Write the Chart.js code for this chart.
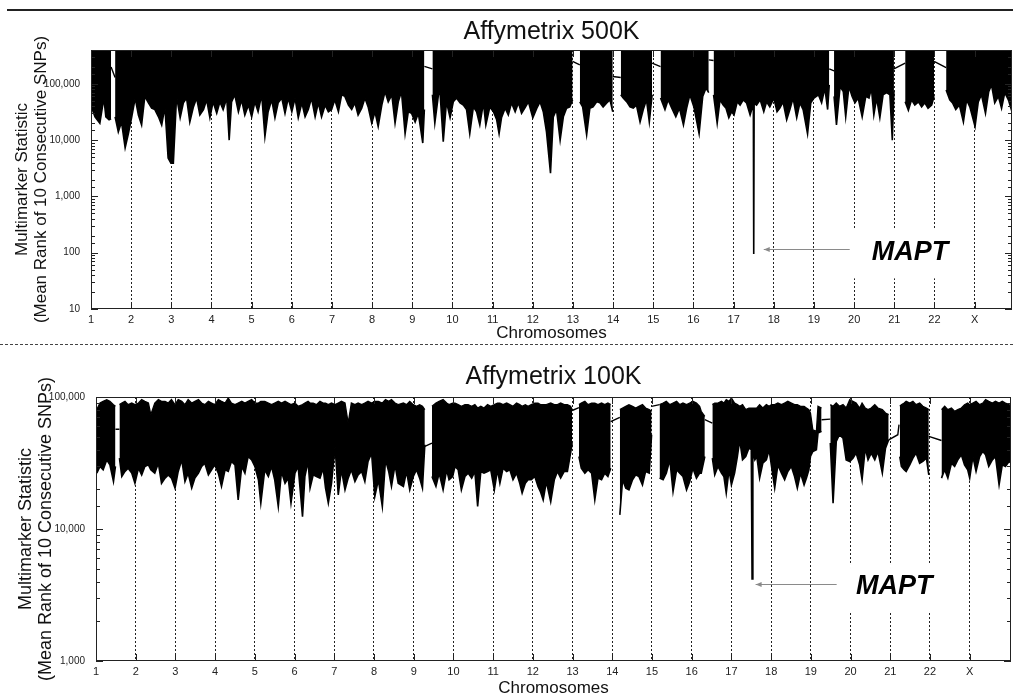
<!DOCTYPE html>
<html>
<head>
<meta charset="utf-8">
<script src="https://cdn.jsdelivr.net/npm/chart.js@4.4.1/dist/chart.umd.min.js"></script>
<style>
  html, body { margin: 0; padding: 0; background: #fff; }
  #page { position: relative; width: 1013px; height: 696px; overflow: hidden; }
  canvas { position: absolute; left: 0; }
  #chart500 { top: 0; }
  #chart100 { top: 345px; }
  #ruleTop { position: absolute; top: 9px; left: 7px; width: 1006px; border-top: 2px solid #222; }
  #ruleMid { position: absolute; top: 344px; left: 0; width: 1013px; border-top: 1px dashed #444; }
</style>
</head>
<body>
<div id="page">
  <div id="ruleTop"></div>
  <canvas id="chart500" width="1013" height="340"></canvas>
  <div id="ruleMid"></div>
  <canvas id="chart100" width="1013" height="351"></canvas>
</div>
<script>
const FONT = '"Liberation Sans", Arial, sans-serif';

const chromosomeLabels = ['1', '2', '3', '4', '5', '6', '7', '8', '9', '10', '11', '12',
  '13', '14', '15', '16', '17', '18', '19', '20', '21', '22', 'X'];

// Affymetrix 500K: lower edge of the statistic band (band reaches the top of the axis)
// null = gap in coverage (centromere / acrocentric arm)
const snp500Pos = [
  1.02, 1.10, 1.22, 1.32, 1.37, 1.45, 1.50, 1.55,
  1.60, 1.68, 1.76, 1.85, 1.93, 2.01, 2.10, 2.18, 2.26, 2.34, 2.43, 2.51, 2.59, 2.68, 2.76, 2.84,
  2.92, 2.99, 3.05, 3.13, 3.22, 3.30, 3.38, 3.46, 3.55, 3.63, 3.71, 3.80, 3.88, 3.96, 4.04, 4.13,
  4.21, 4.29, 4.38, 4.44, 4.50, 4.58, 4.67, 4.75, 4.83, 4.92, 5.00, 5.08, 5.16, 5.25, 5.33, 5.41,
  5.50, 5.58, 5.66, 5.75, 5.83, 5.91, 6.00, 6.08, 6.16, 6.25, 6.33, 6.41, 6.49, 6.58, 6.66, 6.74,
  6.83, 6.91, 6.99, 7.07, 7.16, 7.24, 7.32, 7.41, 7.49, 7.57, 7.65, 7.74, 7.82, 7.90, 7.99, 8.07,
  8.15, 8.24, 8.32, 8.40, 8.49, 8.57, 8.65, 8.73, 8.82, 8.90, 8.98, 9.07, 9.15, 9.26, 9.30, 9.40,
  9.50, 9.56, 9.65, 9.69, 9.77, 9.85, 9.94, 10.02, 10.10, 10.19, 10.27, 10.35, 10.43, 10.52, 10.60,
  10.68, 10.77, 10.83, 10.93, 11.02, 11.10, 11.16, 11.22, 11.31, 11.39, 11.47, 11.56, 11.64, 11.72,
  11.80, 11.89, 12.00, 12.10, 12.18, 12.26, 12.34, 12.44, 12.51, 12.59, 12.68, 12.76, 12.84, 12.92,
  12.99, 13.08,
  13.17, 13.24, 13.34, 13.42, 13.50, 13.59, 13.67, 13.75, 13.84, 13.92, 13.99, 14.08,
  14.19, 14.25, 14.34, 14.42, 14.50, 14.58, 14.67, 14.75, 14.83, 14.90, 14.97, 15.08,
  15.18, 15.29, 15.37, 15.46, 15.56, 15.65, 15.75, 15.83, 15.91, 16.01, 16.14, 16.23, 16.31, 16.38, 16.44,
  16.50, 16.59, 16.66, 16.74, 16.81, 16.88, 16.95, 17.01, 17.09, 17.16, 17.24, 17.32, 17.41, 17.47,
  17.49, 17.50, 17.51, 17.57, 17.66, 17.75, 17.82, 17.90, 18.00, 18.08, 18.15, 18.23, 18.32, 18.40,
  18.48, 18.57, 18.65, 18.73, 18.84, 18.92, 19.00, 19.11, 19.19, 19.27, 19.34, 19.38, 19.44,
  19.50, 19.56, 19.65, 19.73, 19.79, 19.87, 19.95, 20.02, 20.10, 20.20, 20.29, 20.37, 20.43, 20.49,
  20.56, 20.64, 20.72, 20.81, 20.89, 20.95, 20.99, 21.13,
  21.27, 21.35, 21.43, 21.51, 21.60, 21.68, 21.76, 21.84, 21.93, 21.99, 22.13,
  22.29, 22.38, 22.45, 22.53, 22.62, 22.72, 22.80, 22.88, 23.01, 23.09, 23.17, 23.27, 23.35, 23.42,
  23.50, 23.59, 23.67, 23.75, 23.84, 23.93,
];
const snp500Low = [
  37000, 26000, 20000, 56000, 26000, 23000, 24000, null,
  26000, 14000, 21000, 7300, 13000, 25000, 56000, 28000, 18600, 60000, 46000, 37000, 35000, 26000, 18600, 39000,
  4800, 3900, 3900, 60000, 25000, 46000, 56000, 21000, 39000, 56000, 28000, 35000, 52000, 25000, 48000, 30000,
  48000, 35000, 56000, 10000, 48000, 64000, 32000, 52000, 28000, 42000, 26000, 48000, 32000, 64000, 11500, 32000,
  52000, 25000, 46000, 56000, 30000, 56000, 32000, 56000, 25000, 46000, 26000, 35000, 56000, 26000, 46000, 26000,
  42000, 32000, 35000, 52000, 32000, 64000, 60000, 42000, 35000, 46000, 28000, 37000, 56000, 39000, 20000, 32000,
  17400, 42000, 73000, 48000, 64000, 20000, 48000, 73000, 13000, 32000, 30000, 21000, 30000, 8900, 35000, null,
  64000, 20000, 64000, 70000, 9400, 48000, 25000, 48000, 56000, 46000, 42000, 35000, 13000, 39000, 32000,
  18600, 46000, 18600, 39000, 32000, 23000, 13000, 25000, 37000, 28000, 46000, 32000, 46000, 30000,
  37000, 48000, 25000, 37000, 48000, 32000, 14000, 2600, 26000, 35000, 10000, 26000, 37000, 39000,
  52000, null,
  48000, 39000, 12400, 37000, 39000, 48000, 46000, 39000, 46000, 52000, 32000, null,
  64000, 56000, 48000, 39000, 37000, 42000, 21000, 35000, 52000, 21000, 64000, null,
  56000, 35000, 52000, 37000, 26000, 37000, 18600, 37000, 64000, 39000, 13000, 60000, 84000, 70000, null,
  64000, 20000, 52000, 42000, 37000, 25000, 32000, 28000, 48000, 42000, 52000, 46000, 28000, 39000,
  45000, 95, 45000, 42000, 52000, 32000, 48000, 39000, 56000, 32000, 37000, 48000, 23000, 35000,
  56000, 25000, 46000, 35000, 13000, 46000, 56000, 64000, 46000, 84000, 35000, 96000, null,
  60000, 18600, 90000, 73000, 26000, 90000, 60000, 46000, 56000, 26000, 60000, 56000, 84000, 28000,
  56000, 25000, 64000, 70000, 64000, 10000, 73000, null,
  48000, 34000, 52000, 42000, 48000, 39000, 46000, 37000, 42000, 60000, null,
  78000, 52000, 46000, 35000, 42000, 21000, 52000, 39000, 17400, 48000, 64000, 30000, 73000, 96000,
  46000, 60000, 37000, 70000, 52000, 32000,
];
// thin trace joining the blocks across the gaps
const snp500LinkPos = [1.50, 1.60, 1.55, 9.30, 9.50, 9.40, 12.99, 13.17, 13.08, 13.99, 14.19, 14.08,
  14.97, 15.18, 15.08, 16.38, 16.50, 16.44, 19.38, 19.50, 19.44, 20.99, 21.27, 21.13, 21.99, 22.29];
const snp500LinkVal = [200000, 130000, null, 205000, 185000, null, 250000, 218000, null, 135000, 130000, null,
  233000, 203000, null, 267000, 260000, null, 185000, 170000, null, 185000, 233000, null, 250000, 195000];

// Affymetrix 100K: upper and lower edge of the statistic band
const snp100Pos = [
  1.02, 1.10, 1.18, 1.27, 1.35, 1.44, 1.49, 1.54,
  1.59, 1.65, 1.73, 1.81, 1.90, 1.98, 2.07, 2.15, 2.23, 2.32, 2.38, 2.48, 2.57, 2.65, 2.74, 2.82,
  2.90, 2.99, 3.07, 3.16, 3.24, 3.32, 3.41, 3.49, 3.58, 3.66, 3.74, 3.83, 3.91, 3.99, 4.08, 4.16,
  4.25, 4.33, 4.41, 4.50, 4.58, 4.67, 4.75, 4.83, 4.92, 5.00, 5.09, 5.15, 5.25, 5.34, 5.42, 5.50,
  5.59, 5.67, 5.76, 5.84, 5.91, 6.01, 6.09, 6.20, 6.26, 6.34, 6.39, 6.47, 6.55, 6.64, 6.72, 6.78,
  6.85, 6.93, 7.02, 7.10, 7.18, 7.27, 7.35, 7.43, 7.52, 7.60, 7.69, 7.77, 7.85, 7.94, 8.02, 8.11,
  8.21, 8.29, 8.37, 8.44, 8.53, 8.61, 8.74, 8.82, 8.90, 8.99, 9.07, 9.15, 9.22, 9.28, 9.37,
  9.46, 9.56, 9.64, 9.74, 9.83, 9.89, 9.98, 10.04, 10.12, 10.20, 10.29, 10.37, 10.46, 10.54, 10.61,
  10.69, 10.77, 10.86, 10.94, 11.03, 11.11, 11.17, 11.25, 11.34, 11.42, 11.50, 11.59, 11.67, 11.73,
  11.81, 11.88, 11.96, 12.05, 12.13, 12.19, 12.26, 12.34, 12.45, 12.54, 12.62, 12.70, 12.79, 12.87,
  12.95, 12.99, 13.07,
  13.16, 13.22, 13.31, 13.39, 13.48, 13.56, 13.64, 13.73, 13.81, 13.89, 13.96, 14.08,
  14.19, 14.26, 14.34, 14.42, 14.51, 14.59, 14.67, 14.76, 14.84, 14.93, 14.99, 15.09,
  15.19, 15.28, 15.36, 15.45, 15.53, 15.62, 15.70, 15.78, 15.87, 15.95, 16.03, 16.12, 16.20, 16.24, 16.33, 16.42,
  16.52, 16.58, 16.66, 16.75, 16.81, 16.87, 16.94, 17.00, 17.08, 17.15, 17.21, 17.28, 17.36, 17.44,
  17.50, 17.52, 17.54, 17.59, 17.64, 17.71, 17.79, 17.88, 17.95, 18.01, 18.09, 18.17, 18.26, 18.34,
  18.42, 18.51, 18.59, 18.66, 18.74, 18.83, 18.89, 18.95, 18.99, 19.05, 19.14, 19.18, 19.27, 19.38,
  19.49, 19.56, 19.64, 19.72, 19.81, 19.89, 19.98, 20.06, 20.14, 20.23, 20.29, 20.37, 20.44, 20.52,
  20.61, 20.69, 20.80, 20.88, 20.96, 21.10,
  21.24, 21.28, 21.35, 21.40, 21.49, 21.57, 21.65, 21.74, 21.82, 21.91, 21.97, 22.13,
  22.29, 22.37, 22.45, 22.54, 22.62, 22.70, 22.79, 22.87, 22.95, 23.00, 23.08, 23.16, 23.25, 23.33,
  23.40, 23.48, 23.57, 23.65, 23.74, 23.82, 23.90, 23.99, 24.04,
];
const snp100High = [
  80200, 90000, 92700, 95500, 92700, 87500, 85000, null,
  87500, 90000, 92700, 87500, 90000, 87500, 90000, 95500, 92700, 90000, 73500, 90000, 95500, 92700, 92700, 90000,
  95500, 87500, 95500, 92700, 87500, 95500, 90000, 92700, 95500, 90000, 87500, 92700, 90000, 87500, 95500, 92700,
  90000, 98300, 90000, 87500, 90000, 92700, 90000, 92700, 95500, 90000, 90000, 92700, 92700, 90000, 87500, 90000,
  92700, 90000, 92700, 90000, 87500, 90000, 85000, 87500, 90000, 92700, 90000, 90000, 87500, 92700, 90000, 90000,
  87500, 90000, 87500, 90000, 92700, 90000, 63500, 90000, 87500, 90000, 87500, 90000, 92700, 90000, 92700, 92700,
  90000, 95500, 92700, 95500, 90000, 87500, 90000, 87500, 92700, 87500, 85000, 87500, 85000, 80200, null,
  85000, 90000, 92700, 95500, 90000, 87500, 90000, 90000, 87500, 85000, 87500, 87500, 85000, 87500, 82500,
  85000, 82500, 87500, 85000, 87500, 90000, 90000, 87500, 90000, 87500, 85000, 90000, 87500, 85000,
  87500, 85000, 87500, 90000, 90000, 87500, 87500, 87500, 90000, 87500, 87500, 90000, 87500, 87500,
  85000, 80200, null,
  87500, 90000, 92700, 87500, 90000, 90000, 87500, 90000, 87500, 90000, 87500, null,
  80200, 82500, 85000, 87500, 85000, 82500, 85000, 87500, 82500, 80200, 77900, null,
  87500, 90000, 92700, 87500, 90000, 92700, 87500, 90000, 87500, 90000, 92700, 90000, 85000, 77900, 71400, null,
  87500, 90000, 90000, 92700, 90000, 95500, 92700, 98300, 90000, 87500, 85000, 87500, 80200, 82500,
  82500, 82500, 82500, 82500, 82500, 87500, 82500, 87500, 85000, 87500, 87500, 90000, 87500, 90000,
  92700, 90000, 87500, 87500, 85000, 85000, 82500, 80200, 75600, 56500, 54900, 85000, 82500, null,
  87500, 85000, 90000, 85000, 87500, 82500, 95500, 92700, 90000, 82500, 90000, 82500, 80200, 82500,
  87500, 82500, 80200, 75600, 73500, null,
  85000, 87500, 90000, 92700, 90000, 92700, 87500, 90000, 85000, 82500, 80200, null,
  80200, 85000, 80200, 82500, 77900, 80200, 82500, 87500, 90000, 87500, 90000, 92700, 87500, 90000,
  95500, 92700, 90000, 92700, 90000, 92700, 90000, 87500, 85000,
];
const snp100Low = [
  26500, 29800, 28100, 33400, 30600, 22900, 29800, null,
  34400, 25000, 27300, 28900, 26500, 22200, 28900, 25700, 29800, 30600, 28100, 26500, 31500, 22200, 24300, 25700,
  24300, 20400, 27300, 33400, 22900, 26500, 20400, 24300, 26500, 29800, 31500, 25700, 28100, 30600, 26500, 21000,
  28100, 27300, 32500, 30600, 16600, 29800, 26500, 35400, 33400, 29800, 23600, 15700, 28100, 25000, 29800, 23600,
  14800, 27300, 22200, 24300, 15700, 26500, 29800, 12400, 25000, 32500, 20400, 25700, 25000, 24300, 28900, 20400,
  15700, 22200, 42200, 18100, 28100, 19800, 24300, 28100, 22900, 25700, 27300, 22900, 32500, 37600, 17600, 23600,
  14800, 33400, 27300, 21000, 30600, 22200, 21000, 27300, 19800, 25000, 28100, 24300, 20400, 43500, null,
  25000, 21000, 26500, 19800, 28100, 23600, 25000, 29800, 28100, 19800, 25000, 26500, 24300, 27300, 14800,
  27300, 26500, 27300, 28100, 19800, 28100, 22200, 28900, 27300, 28100, 23600, 26500, 22200, 18700,
  22200, 23600, 23600, 25000, 21000, 19200, 16600, 22900, 16100, 23600, 27300, 24300, 27300, 27300,
  37600, 44800, null,
  35400, 28900, 26500, 28100, 26500, 16600, 24300, 23600, 26500, 25000, 28900, null,
  12800, 23600, 20400, 19800, 23600, 25700, 25000, 21600, 27300, 26500, 51800, null,
  24300, 23600, 26500, 33400, 19200, 28100, 26500, 25000, 19800, 22900, 28900, 24300, 26500, 26500, 35400, null,
  34400, 25700, 29800, 26500, 25000, 18700, 28100, 21600, 26500, 35400, 47400, 33400, 35400, 41000,
  40000, 4180, 40000, 33400, 35400, 24300, 31500, 33400, 39800, 29800, 20400, 30600, 26500, 23600,
  27300, 29800, 25000, 20400, 26500, 21600, 24300, 28100, 35400, 38700, 39800, 53300, 54900, null,
  44800, 15700, 46100, 51800, 48800, 33400, 32500, 34400, 37600, 30600, 23600, 41000, 33400, 37600,
  33400, 38700, 26500, 41000, 47400, null,
  35400, 29800, 28100, 27300, 30600, 34400, 37600, 31500, 32500, 34400, 25700, null,
  24300, 28100, 24300, 31500, 29800, 33400, 36500, 30600, 28100, 24300, 35400, 27300, 35400, 38700,
  36500, 29800, 33400, 35400, 21600, 30600, 29800, 32500, 31500,
];
const snp100LinkPos = [1.49, 1.59, 1.54, 9.28, 9.46, 9.37, 12.99, 13.16, 13.07, 13.96, 14.19, 14.08,
  14.99, 15.19, 15.09, 16.33, 16.52, 16.42, 19.27, 19.49, 19.38, 20.96, 21.19, 21.22, 21.24, 21.10, 21.97, 22.29];
const snp100LinkVal = [57000, 57000, null, 42200, 44800, null, 79000, 83000, null, 65000, 70000, null,
  85000, 87500, null, 67300, 63500, null, 67300, 68000, null, 47400, 51800, 61700, 61700, null, 50300, 46800];

const toPoints = (xs, ys) => xs.map((x, i) => ({ x, y: ys[i] }));

function isDecade(v) {
  const e = Math.log10(v);
  return Math.abs(e - Math.round(e)) < 1e-6;
}

const panelDecor = {
  id: 'panelDecor',
  afterDatasetsDraw(chart, args, opts) {
    const { ctx, chartArea: a } = chart;
    const x = chart.scales.x;
    const y = chart.scales.y;
    ctx.save();
    ctx.strokeStyle = '#222';
    ctx.lineWidth = 1;
    ctx.strokeRect(a.left + 0.5, a.top + 0.5, a.width - 1, a.height - 1);

    ctx.beginPath();
    x.ticks.forEach((t) => {
      const px = Math.round(x.getPixelForValue(t.value)) + 0.5;
      ctx.moveTo(px, a.bottom);
      ctx.lineTo(px, a.bottom - 7);
      ctx.moveTo(px, a.top);
      ctx.lineTo(px, a.top + 7);
    });
    y.ticks.forEach((t) => {
      const py = Math.round(y.getPixelForValue(t.value)) + 0.5;
      const len = isDecade(t.value) ? 7 : 4;
      ctx.moveTo(a.left, py);
      ctx.lineTo(a.left + len, py);
      ctx.moveTo(a.right, py);
      ctx.lineTo(a.right - len, py);
    });
    ctx.stroke();

    // MAPT call-out
    const m = opts.mapt;
    const bx0 = x.getPixelForValue(m.boxX[0]);
    const bx1 = x.getPixelForValue(m.boxX[1]);
    const by0 = y.getPixelForValue(m.boxY[0]);
    const by1 = y.getPixelForValue(m.boxY[1]);
    ctx.fillStyle = '#fff';
    ctx.fillRect(bx0, by0, bx1 - bx0, by1 - by0);

    const ay = Math.round(y.getPixelForValue(m.arrowY)) + 0.5;
    const ax0 = x.getPixelForValue(m.arrowX[0]);
    const ax1 = x.getPixelForValue(m.arrowX[1]);
    ctx.strokeStyle = '#8a8a8a';
    ctx.beginPath();
    ctx.moveTo(ax0, ay);
    ctx.lineTo(ax1, ay);
    ctx.stroke();
    ctx.fillStyle = '#8a8a8a';
    ctx.beginPath();
    ctx.moveTo(ax1, ay);
    ctx.lineTo(ax1 + 6, ay - 2.5);
    ctx.lineTo(ax1 + 6, ay + 2.5);
    ctx.closePath();
    ctx.fill();

    ctx.fillStyle = '#000';
    ctx.font = `italic bold 27px ${FONT}`;
    ctx.textAlign = 'center';
    ctx.textBaseline = 'middle';
    ctx.fillText('MAPT', x.getPixelForValue(m.textX), y.getPixelForValue(m.textY));
    ctx.restore();
  },
  afterDraw(chart, args, opts) {
    const { ctx, chartArea: a } = chart;
    const cx = (a.left + a.right) / 2;
    const cy = (a.top + a.bottom) / 2;
    ctx.save();
    ctx.fillStyle = '#111';
    ctx.textAlign = 'center';
    ctx.textBaseline = 'middle';
    ctx.font = `25px ${FONT}`;
    ctx.fillText(opts.title, cx, opts.titleY);
    ctx.font = `17px ${FONT}`;
    ctx.fillText('Chromosomes', cx, opts.xTitleY);
    ctx.font = `${opts.yTitleSize}px ${FONT}`;
    ['Multimarker Statistic', '(Mean Rank of 10 Consecutive SNPs)'].forEach((line, i) => {
      ctx.save();
      ctx.translate(opts.yTitleX[i], cy);
      ctx.rotate(-Math.PI / 2);
      ctx.fillText(line, 0, 0);
      ctx.restore();
    });
    ctx.restore();
  },
};

function panelOptions(p) {
  return {
    responsive: false,
    animation: false,
    devicePixelRatio: 1,
    events: [],
    layout: { padding: { top: p.top, right: p.right, left: 0, bottom: 0 } },
    elements: { point: { radius: 0 }, line: { tension: 0 } },
    plugins: {
      legend: { display: false },
      tooltip: { enabled: false },
      panelDecor: p.decor,
    },
    scales: {
      x: {
        type: 'linear',
        min: 1,
        max: p.xMax,
        afterBuildTicks: (axis) => {
          axis.ticks = chromosomeLabels.map((_, i) => ({ value: i + 1 }));
        },
        afterFit: (axis) => {
          axis.height = p.xHeight;
        },
        ticks: {
          autoSkip: false,
          maxRotation: 0,
          padding: 4,
          color: '#222',
          font: { size: 11, family: FONT },
          callback: (v) => chromosomeLabels[Math.round(v) - 1] ?? '',
        },
        grid: {
          color: (c) => (c.tick && c.tick.value > 1 ? '#222' : 'rgba(0,0,0,0)'),
          lineWidth: 1,
          drawTicks: false,
        },
        border: { display: false, dash: [2, 2] },
      },
      y: {
        type: 'logarithmic',
        min: p.yMin,
        max: p.yMax,
        afterFit: (axis) => {
          axis.width = p.yWidth;
        },
        ticks: {
          autoSkip: false,
          padding: 3,
          color: '#222',
          font: { size: 10, family: FONT },
          callback: (v) => (isDecade(v) ? Number(v).toLocaleString('en-US') : ''),
        },
        grid: { display: false },
        border: { display: false },
      },
    },
  };
}

new Chart(document.getElementById('chart500'), {
  type: 'line',
  data: {
    datasets: [
      {
        data: toPoints(snp500Pos, snp500Low),
        borderColor: '#000',
        backgroundColor: '#000',
        borderWidth: 1.6,
        fill: 'end',
        spanGaps: false,
      },
      {
        data: toPoints(snp500LinkPos, snp500LinkVal),
        borderColor: '#000',
        borderWidth: 1.4,
        fill: false,
        spanGaps: false,
      },
    ],
  },
  options: panelOptions({
    top: 50,
    right: 1,
    xMax: 23.93,
    xHeight: 31,
    yWidth: 91,
    yMin: 10,
    yMax: 400000,
    decor: {
      title: 'Affymetrix 500K',
      titleY: 32,
      xTitleY: 333,
      yTitleSize: 17,
      yTitleX: [22, 41],
      mapt: {
        boxX: [19.85, 22.7],
        boxY: [275, 35],
        arrowX: [19.89, 17.75],
        arrowY: 117,
        textX: 21.39,
        textY: 99,
      },
    },
  }),
  plugins: [panelDecor],
});

new Chart(document.getElementById('chart100'), {
  type: 'line',
  data: {
    datasets: [
      {
        data: toPoints(snp100Pos, snp100High),
        borderColor: '#000',
        borderWidth: 1.3,
        fill: false,
        spanGaps: false,
      },
      {
        data: toPoints(snp100Pos, snp100Low),
        borderColor: '#000',
        backgroundColor: '#000',
        borderWidth: 1.6,
        fill: '-1',
        spanGaps: false,
      },
      {
        data: toPoints(snp100LinkPos, snp100LinkVal),
        borderColor: '#000',
        borderWidth: 1.4,
        fill: false,
        spanGaps: false,
      },
    ],
  },
  options: panelOptions({
    top: 52,
    right: 2,
    xMax: 24.04,
    xHeight: 35,
    yWidth: 96,
    yMin: 1000,
    yMax: 100000,
    decor: {
      title: 'Affymetrix 100K',
      titleY: 32,
      xTitleY: 343,
      yTitleSize: 18,
      yTitleX: [26, 46],
      mapt: {
        boxX: [19.6, 22.37],
        boxY: [5530, 2350],
        arrowX: [19.65, 17.61],
        arrowY: 3850,
        textX: 21.1,
        textY: 3640,
      },
    },
  }),
  plugins: [panelDecor],
});
</script>
</body>
</html>
